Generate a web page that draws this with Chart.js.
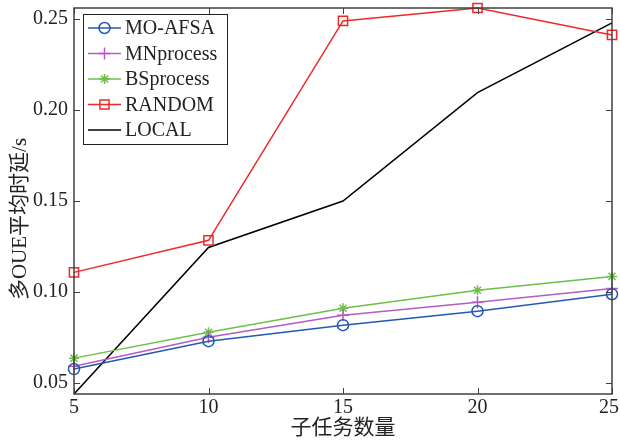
<!DOCTYPE html>
<html>
<head>
<meta charset="utf-8">
<script src="https://cdn.jsdelivr.net/npm/chart.js"></script>
<style>
  body { margin: 0; background: #fff; }
</style>
</head>
<body>
<canvas id="chart1" width="620" height="440"></canvas>
<script>
// Average delay vs number of subtasks
const subtasks = [5, 10, 15, 20, 25];
const moAfsa = [0.0577, 0.0730, 0.0818, 0.0895, 0.0988];
const mnProcess = [0.0593, 0.0752, 0.0873, 0.0944, 0.1020];
const bsProcess = [0.0637, 0.0779, 0.0911, 0.1010, 0.1086];
const randomSel = [0.1108, 0.1284, 0.2489, 0.2560, 0.2412];
const localExec = [0.0440, 0.1245, 0.1500, 0.2095, 0.2478];
const yTicks = [0.05, 0.10, 0.15, 0.20, 0.25];

const serif = '"Liberation Serif", "Noto Sans CJK SC", serif';

function toPoints(values) {
  return values.map((v, i) => ({ x: subtasks[i], y: v }));
}

function series(label, values, color, style, radius) {
  return {
    label: label,
    data: toPoints(values),
    borderColor: color,
    borderWidth: 1.5,
    pointStyle: style,
    pointRadius: radius,
    pointBorderColor: color,
    pointBackgroundColor: "rgba(0,0,0,0)",
    pointBorderWidth: 1.5,
    clip: false,
    tension: 0,
  };
}

const delayData = {
  datasets: [
    series("MO-AFSA", moAfsa, "#2458b4", "circle", 5.5),
    series("MNprocess", mnProcess, "#b45cc4", "cross", 6),
    series("BSprocess", bsProcess, "#6cc048", "star", 5),
    series("RANDOM", randomSel, "#f02828", "rect", 6.5),
    series("LOCAL", localExec, "#000000", false, 0),
  ],
};

// frame, inward ticks, x tick labels, legend and axis titles
const framePlugin = {
  id: "frame",
  afterDraw(chart) {
    const ctx = chart.ctx;
    const a = chart.chartArea;
    const xs = chart.scales.x;
    const ys = chart.scales.y;
    ctx.save();
    ctx.strokeStyle = "#404040";
    ctx.lineWidth = 1.5;
    ctx.strokeRect(a.left, a.top, a.right - a.left, a.bottom - a.top);

    ctx.lineWidth = 1;
    ctx.beginPath();
    subtasks.forEach((t) => {
      const px = Math.round(xs.getPixelForValue(t)) + 0.5;
      ctx.moveTo(px, a.bottom); ctx.lineTo(px, a.bottom - 6);
      ctx.moveTo(px, a.top); ctx.lineTo(px, a.top + 6);
    });
    yTicks.forEach((t) => {
      const py = Math.round(ys.getPixelForValue(t)) + 0.5;
      ctx.moveTo(a.left, py); ctx.lineTo(a.left + 6, py);
      ctx.moveTo(a.right, py); ctx.lineTo(a.right - 6, py);
    });
    ctx.stroke();

    // x tick labels, kept inside the canvas
    ctx.font = "20px " + serif;
    ctx.fillStyle = "#222";
    ctx.textBaseline = "top";
    ctx.textAlign = "left";
    subtasks.forEach((t) => {
      const label = String(t);
      const w = ctx.measureText(label).width;
      let left = xs.getPixelForValue(t) - w / 2;
      left = Math.min(left, chart.width - 1 - w);
      ctx.fillText(label, left, a.bottom + 4);
    });

    // legend
    const lx = 83, ly = 14, lw = 144, lh = 130;
    ctx.fillStyle = "#fff";
    ctx.fillRect(lx, ly, lw, lh);
    ctx.strokeStyle = "#222";
    ctx.lineWidth = 1;
    ctx.strokeRect(lx + 0.5, ly + 0.5, lw, lh);
    ctx.font = "20px " + serif;
    ctx.textBaseline = "middle";
    chart.data.datasets.forEach((ds, i) => {
      const ry = ly + 14 + i * 25.5;
      ctx.strokeStyle = ds.borderColor;
      ctx.lineWidth = 1.5;
      ctx.beginPath();
      ctx.moveTo(lx + 5, ry); ctx.lineTo(lx + 38, ry);
      ctx.stroke();
      if (ds.pointStyle) {
        ctx.fillStyle = "rgba(0,0,0,0)";
        Chart.helpers.drawPoint(ctx, {
          pointStyle: ds.pointStyle,
          radius: ds.pointRadius,
          borderWidth: 1.5,
          rotation: 0,
        }, lx + 21.5, ry);
      }
      ctx.fillStyle = "#222";
      ctx.fillText(ds.label, lx + 42, ry + 1);
    });

    // axis titles
    ctx.fillStyle = "#222";
    ctx.textAlign = "center";
    ctx.font = "21px " + serif;
    ctx.fillText("子任务数量", (a.left + a.right) / 2, 428);
    ctx.translate(20, 219);
    ctx.rotate(-Math.PI / 2);
    ctx.fillText("多OUE平均时延/s", 0, 0);
    ctx.restore();
  },
};

const config1 = {
  type: "line",
  data: delayData,
  options: {
    responsive: false,
    animation: false,
    layout: { padding: { top: 7, right: 3, left: 0, bottom: 0 } },
    plugins: {
      legend: { display: false },
      tooltip: { enabled: false },
    },
    scales: {
      x: {
        type: "linear",
        min: 5,
        max: 25,
        afterBuildTicks: (s) => { s.ticks = subtasks.map((v) => ({ value: v })); },
        afterFit: (s) => {
          s.height = 46;
          s.paddingLeft = 0;
          s.paddingRight = 0;
        },
        grid: { display: false, drawTicks: false },
        border: { display: false },
        ticks: { display: false },
      },
      y: {
        min: 0.044,
        max: 0.256,
        afterBuildTicks: (s) => { s.ticks = yTicks.map((v) => ({ value: v })); },
        afterFit: (s) => {
          s.width = 74;
          s.paddingTop = 0;
          s.paddingBottom = 0;
        },
        grid: { display: false, drawTicks: false },
        border: { display: false },
        ticks: {
          padding: 6,
          color: "#222",
          font: { family: serif, size: 20 },
          callback: (v) => v.toFixed(2),
        },
      },
    },
  },
  plugins: [framePlugin],
};

const lineChart = new Chart(document.getElementById("chart1"), config1);
</script>
</body>
</html>
